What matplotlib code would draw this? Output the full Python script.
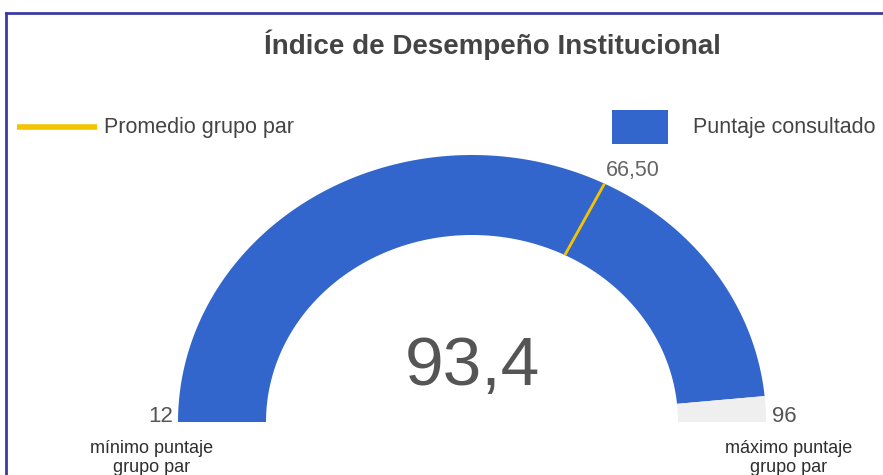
import numpy as np
import matplotlib.pyplot as plt
from matplotlib.patches import Polygon, Rectangle

plt.rcParams['font.family'] = ['Liberation Sans', 'DejaVu Sans']

# datos del indicador
titulo = 'Índice de Desempeño Institucional'
valor_min = 12
valor_max = 96
puntaje = 93.4
promedio = 66.50
etiqueta_min = 'mínimo puntaje\ngrupo par'
etiqueta_max = 'máximo puntaje\ngrupo par'

AZUL = '#3366cc'
GRIS = '#f0efef'
AMARILLO = '#f5c400'

W, H = 883, 475
fig = plt.figure(figsize=(W / 100, H / 100), dpi=100)
ax = fig.add_axes([0, 0, 1, 1])
ax.set_xlim(0, W)
ax.set_ylim(H, 0)
ax.axis('off')

# geometria del medidor (en pixeles)
cx, cy = 472, 422
rx_out, ry_out = 294, 267
rx_in, ry_in = 206, 187


def angulo(v):
    return np.pi * (1 - (v - valor_min) / (valor_max - valor_min))


def sector(v0, v1, color):
    t = np.linspace(angulo(v0), angulo(v1), 200)
    xo = cx + rx_out * np.cos(t)
    yo = cy - ry_out * np.sin(t)
    xi = cx + rx_in * np.cos(t[::-1])
    yi = cy - ry_in * np.sin(t[::-1])
    pts = np.column_stack([np.r_[xo, xi], np.r_[yo, yi]])
    ax.add_patch(Polygon(pts, closed=True, facecolor=color, edgecolor='none'))


sector(valor_min, puntaje, AZUL)
sector(puntaje, valor_max, GRIS)

# linea del promedio
a = angulo(promedio)
ax.plot([cx + rx_in * np.cos(a), cx + rx_out * np.cos(a)],
        [cy - ry_in * np.sin(a), cy - ry_out * np.sin(a)],
        color=AMARILLO, lw=2, solid_capstyle='butt')
ax.text(cx + rx_out * np.cos(a) + 1, cy - ry_out * np.sin(a) - 13,
        f'{promedio:.2f}'.replace('.', ','), fontsize=15.5, color='#666666',
        ha='left', va='center')

# valor central
ax.text(cx, 367, f'{puntaje:.1f}'.replace('.', ','), fontsize=50,
        color='#555555', ha='center', va='center')

# extremos
ax.text(cx - rx_out - 5, 416, str(valor_min), fontsize=16, color='#555555',
        ha='right', va='center')
ax.text(cx + rx_out + 6, 416, str(valor_max), fontsize=16, color='#555555',
        ha='left', va='center')
ax.text(152, 458, etiqueta_min, fontsize=13, color='#2e2e2e',
        ha='center', va='center', linespacing=1.15)
ax.text(789, 458, etiqueta_max, fontsize=13, color='#2e2e2e',
        ha='center', va='center', linespacing=1.15)

# titulo
ax.text(492, 45, titulo, fontsize=20, fontweight='bold', color='#444444',
        ha='center', va='center')

# leyenda
ax.plot([17, 97], [127, 127], color=AMARILLO, lw=4, solid_capstyle='butt')
ax.text(104, 127, 'Promedio grupo par', fontsize=15.5, color='#444444',
        ha='left', va='center')
ax.add_patch(Rectangle((612, 110), 56, 34, facecolor=AZUL, edgecolor='none'))
ax.text(693, 127, 'Puntaje consultado', fontsize=15.5, color='#444444',
        ha='left', va='center')

# marco
ax.plot([6, W], [13, 13], color='#3b3ba6', lw=2)
ax.plot([6, 6], [13, H], color='#3b3ba6', lw=2)

fig.savefig('out.png', dpi=100)
